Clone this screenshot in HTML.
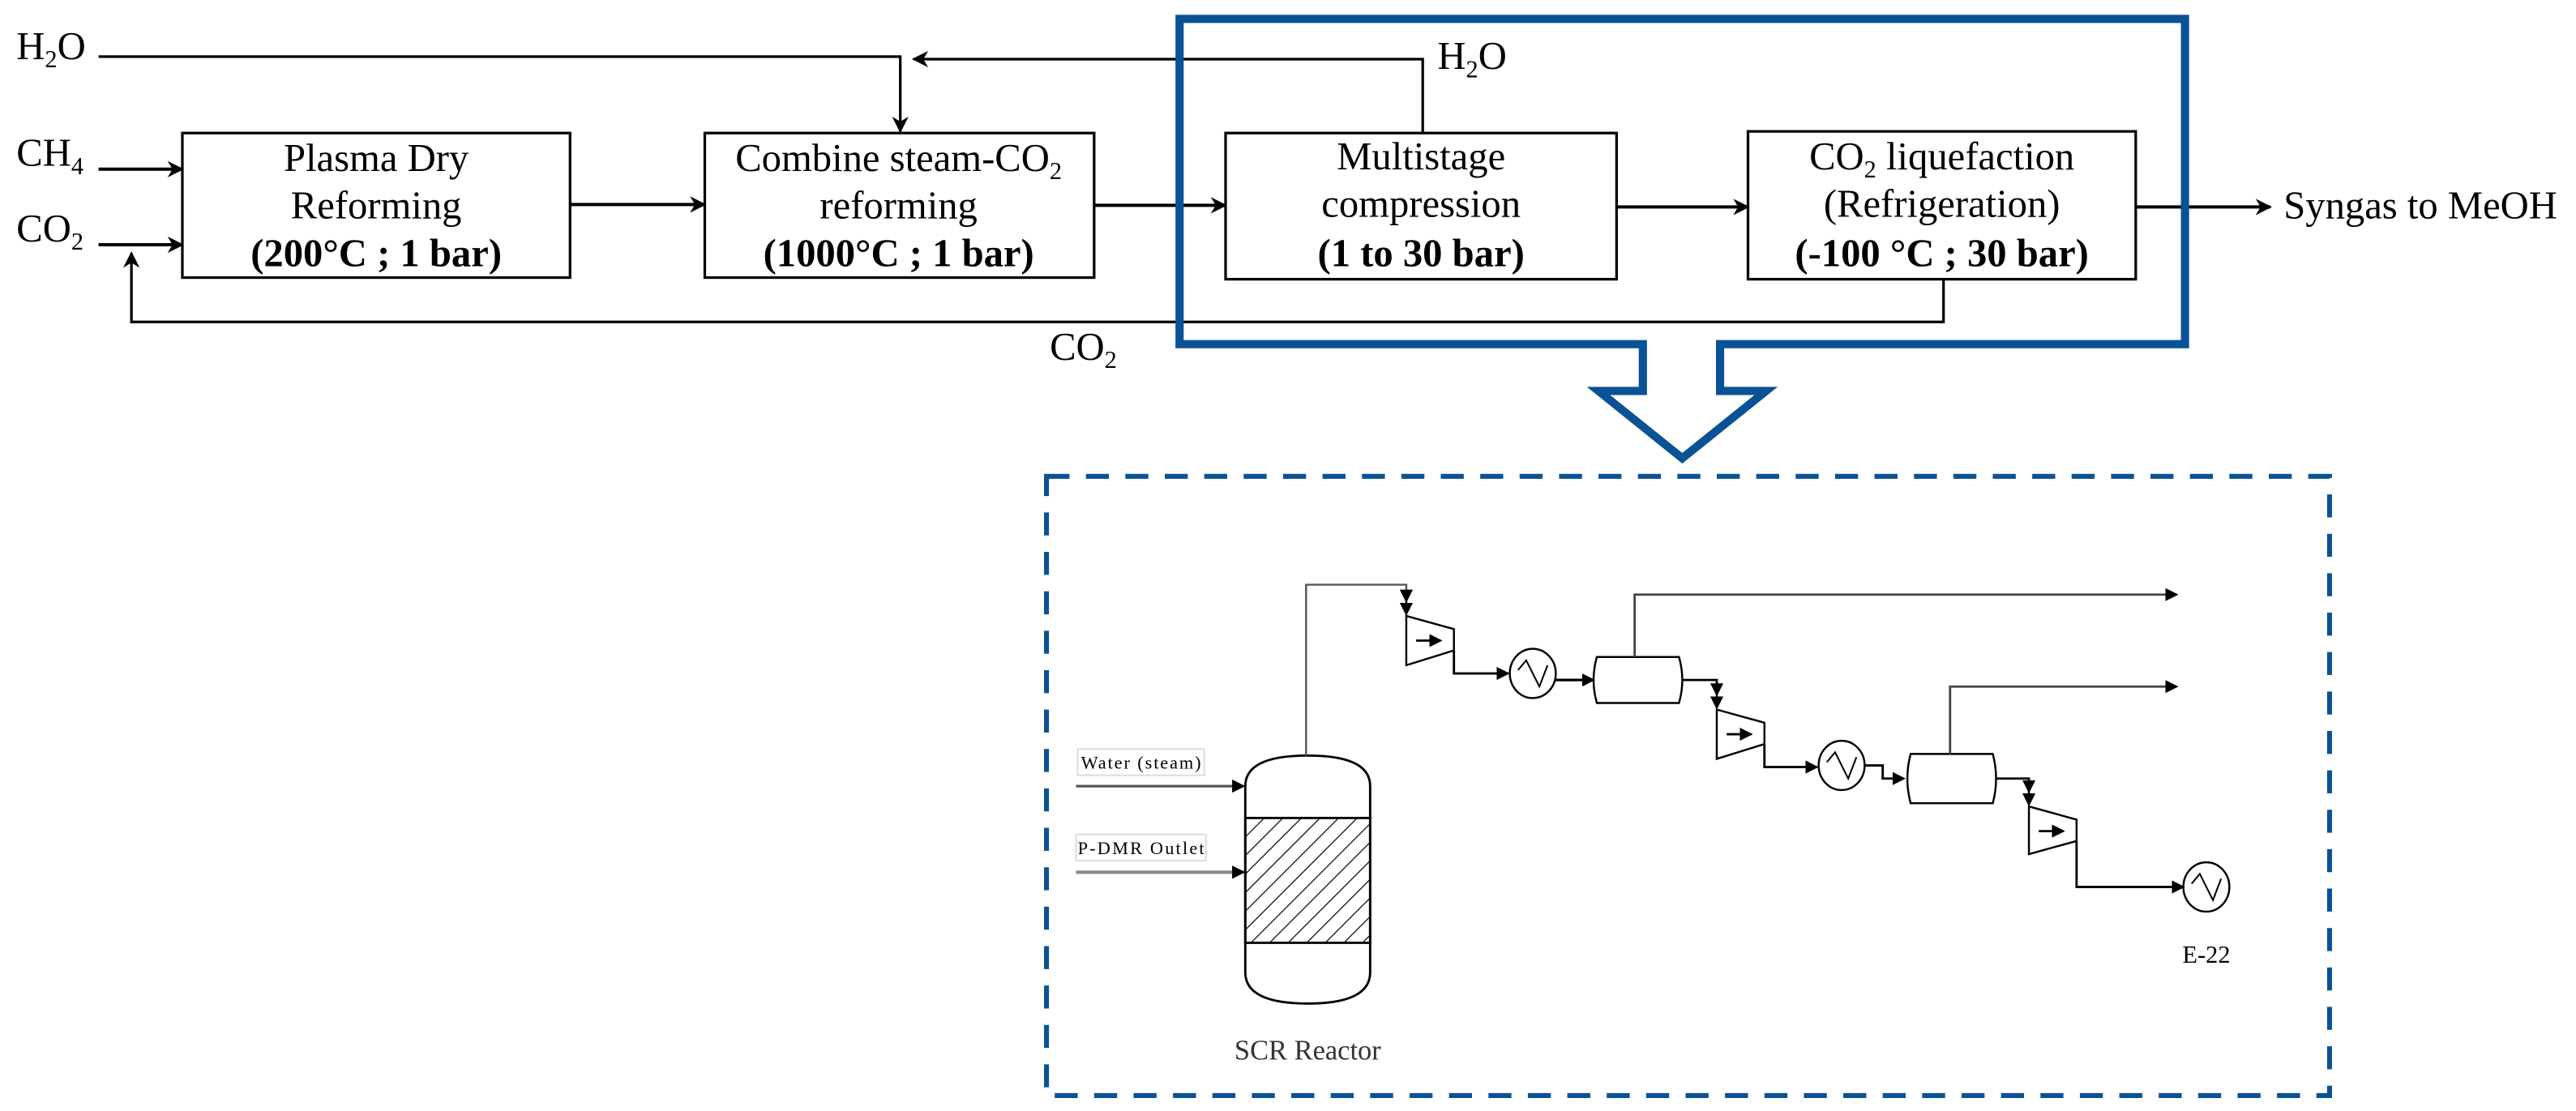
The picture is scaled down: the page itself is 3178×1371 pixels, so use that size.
<!DOCTYPE html>
<html><head><meta charset="utf-8"><style>
html,body{margin:0;padding:0;background:#fff;}
svg{display:block;font-family:"Liberation Serif","Times New Roman",serif;}
svg text{font-family:"Liberation Serif","Times New Roman",serif !important;}
</style></head><body>
<svg width="3178" height="1371" viewBox="0 0 1568 676.4" preserveAspectRatio="none" xmlns="http://www.w3.org/2000/svg" font-family="Liberation Serif, serif">
<defs>
<marker id="a" markerWidth="10" markerHeight="10" refX="9" refY="5" orient="auto" markerUnits="userSpaceOnUse"><path d="M0,0 L10,5 L0,10 L3,5 z" fill="#000"/></marker>
<marker id="t" markerWidth="8" markerHeight="8" refX="7" refY="4" orient="auto" markerUnits="userSpaceOnUse"><path d="M0,0 L8,4 L0,8 z" fill="#000"/></marker>
<pattern id="h" width="8" height="8" patternUnits="userSpaceOnUse" patternTransform="rotate(45)"><line x1="0" y1="0" x2="0" y2="8" stroke="#000" stroke-width="1.2"/></pattern>
</defs>
<g fill="none" stroke="#000">
<rect x="111" y="81" width="236" height="88" stroke-width="1.6"/>
<rect x="429" y="81" width="237" height="88" stroke-width="1.6"/>
<rect x="746" y="81" width="238" height="89" stroke-width="1.6"/>
<rect x="1064" y="80" width="236" height="90" stroke-width="1.6"/>
<polyline points="60,34.5 548,34.5 548,80" stroke-width="1.6" marker-end="url(#a)"/>
<polyline points="866,81 866,36 556,36" stroke-width="1.6" marker-end="url(#a)"/>
<line x1="60" y1="103" x2="111" y2="103" stroke-width="2" marker-end="url(#a)"/>
<line x1="60" y1="149" x2="111" y2="149" stroke-width="2" marker-end="url(#a)"/>
<polyline points="1183,170 1183,196 80,196 80,154" stroke-width="1.6" marker-end="url(#a)"/>
<line x1="347" y1="124.5" x2="429" y2="124.5" stroke-width="2" marker-end="url(#a)"/>
<line x1="666" y1="125" x2="746" y2="125" stroke-width="2" marker-end="url(#a)"/>
<line x1="984" y1="126" x2="1064" y2="126" stroke-width="2" marker-end="url(#a)"/>
<line x1="1300" y1="126" x2="1382" y2="126" stroke-width="2" marker-end="url(#a)"/>
<path d="M1000,209.5 L718,209.5 L718,11.5 L1330,11.5 L1330,209.5 L1047,209.5 L1047,238 L1075,238 L1024,279 L973,238 L1000,238 Z" stroke="#0a5295" stroke-width="5" stroke-linejoin="miter"/>
<rect x="637" y="290" width="781" height="377" stroke="#0a5295" stroke-width="3" stroke-dasharray="14 10"/>
<path d="M758,478.6 Q758,460 796,460 Q834,460 834,478.6 L834,592 Q834,611 796,611 Q758,611 758,592 Z" stroke-width="1.4"/>
<rect x="758" y="498" width="76" height="76" fill="url(#h)" stroke-width="1.4"/>
<line x1="655" y1="478.6" x2="757" y2="478.6" stroke="#555" stroke-width="1.6" marker-end="url(#t)"/>
<line x1="655" y1="531" x2="757" y2="531" stroke="#888" stroke-width="2" marker-end="url(#t)"/>
<polyline points="795,460 795,356 856,356 856,366" stroke="#555" stroke-width="1.2" marker-end="url(#t)"/>
<line x1="856" y1="366" x2="856" y2="374" stroke-width="1.2" marker-end="url(#t)"/>
<polygon points="856,375 885,383 885,396 856,405" stroke-width="1.2"/>
<line x1="862" y1="390" x2="877" y2="390" stroke-width="1.4" marker-end="url(#t)"/>
<polyline points="885,396 885,410 918,410" stroke-width="1.4" marker-end="url(#t)"/>
<ellipse cx="933" cy="410" rx="14" ry="15" stroke-width="1.2"/>
<polyline points="924,408 929,402 937,418 942,405" stroke-width="1"/>
<line x1="947" y1="414" x2="970" y2="414" stroke-width="1.6" marker-end="url(#t)"/>
<path d="M972,400 L1022,400 Q1026,414 1022,428 L972,428 Q968,414 972,400 Z" stroke-width="1.2"/>
<polyline points="995,400 995,362 1325,362" stroke="#444" stroke-width="1.4" marker-end="url(#t)"/>
<polyline points="1024,414 1045,414 1045,423" stroke-width="1.4" marker-end="url(#t)"/>
<line x1="1045" y1="423" x2="1045" y2="431" stroke-width="1.2" marker-end="url(#t)"/>
<polygon points="1045,432 1074,440 1074,453 1045,462" stroke-width="1.2"/>
<line x1="1051" y1="447" x2="1066" y2="447" stroke-width="1.4" marker-end="url(#t)"/>
<polyline points="1074,453 1074,467 1106,467" stroke-width="1.4" marker-end="url(#t)"/>
<ellipse cx="1121" cy="466" rx="14" ry="15" stroke-width="1.2"/>
<polyline points="1112,464 1117,458 1125,474 1130,461" stroke-width="1"/>
<polyline points="1135,466 1146,466 1146,474 1159,474" stroke-width="1.4" marker-end="url(#t)"/>
<path d="M1163,459 L1213,459 Q1217,474 1213,489 L1163,489 Q1159,474 1163,459 Z" stroke-width="1.2"/>
<polyline points="1187,459 1187,418 1325,418" stroke="#444" stroke-width="1.4" marker-end="url(#t)"/>
<polyline points="1215,474 1235,474 1235,482" stroke-width="1.4" marker-end="url(#t)"/>
<line x1="1235" y1="482" x2="1235" y2="490" stroke-width="1.2" marker-end="url(#t)"/>
<polygon points="1235,491 1264,499 1264,512 1235,520" stroke-width="1.2"/>
<line x1="1241" y1="506" x2="1256" y2="506" stroke-width="1.4" marker-end="url(#t)"/>
<polyline points="1264,512 1264,540 1329,540" stroke-width="1.4" marker-end="url(#t)"/>
<ellipse cx="1343" cy="540" rx="14" ry="15" stroke-width="1.2"/>
<polyline points="1334,538 1339,532 1347,548 1352,535" stroke-width="1"/>
<rect x="656" y="456" width="77" height="16" stroke="#ddd" stroke-width="1"/>
<rect x="655" y="508" width="79" height="16" stroke="#ddd" stroke-width="1"/>
</g>
<g font-size="24" fill="#000" font-family="Liberation Serif, serif">
<text x="10" y="36">H<tspan font-size="15" dy="5">2</tspan><tspan dy="-5">O</tspan></text>
<text x="10" y="101">CH<tspan font-size="15" dy="5">4</tspan></text>
<text x="10" y="147">CO<tspan font-size="15" dy="5">2</tspan></text>
<text x="875" y="42">H<tspan font-size="15" dy="5">2</tspan><tspan dy="-5">O</tspan></text>
<text x="639" y="219">CO<tspan font-size="15" dy="5">2</tspan></text>
<text x="1390" y="133">Syngas to MeOH</text>
<g text-anchor="middle">
<text x="229" y="104">Plasma Dry</text>
<text x="229" y="133">Reforming</text>
<text x="229" y="162" font-weight="bold">(200°C ; 1 bar)</text>
<text x="547" y="104">Combine steam-CO<tspan font-size="15" dy="5">2</tspan></text>
<text x="547" y="133">reforming</text>
<text x="547" y="162" font-weight="bold">(1000°C ; 1 bar)</text>
<text x="865" y="103">Multistage</text>
<text x="865" y="132">compression</text>
<text x="865" y="162" font-weight="bold">(1 to 30 bar)</text>
<text x="1182" y="103">CO<tspan font-size="15" dy="5">2</tspan><tspan dy="-5"> liquefaction</tspan></text>
<text x="1182" y="132">(Refrigeration)</text>
<text x="1182" y="162" font-weight="bold">(-100 °C ; 30 bar)</text>
</g>
</g>
<g font-family="Liberation Serif, serif">
<text x="658" y="468" font-size="11" textLength="73">Water (steam)</text>
<text x="656" y="520" font-size="11" textLength="77">P-DMR Outlet</text>
<text x="796" y="645" font-size="17" text-anchor="middle" fill="#333">SCR Reactor</text>
<text x="1343" y="586" font-size="15" text-anchor="middle">E-22</text>
</g>
</svg>
</body></html>
